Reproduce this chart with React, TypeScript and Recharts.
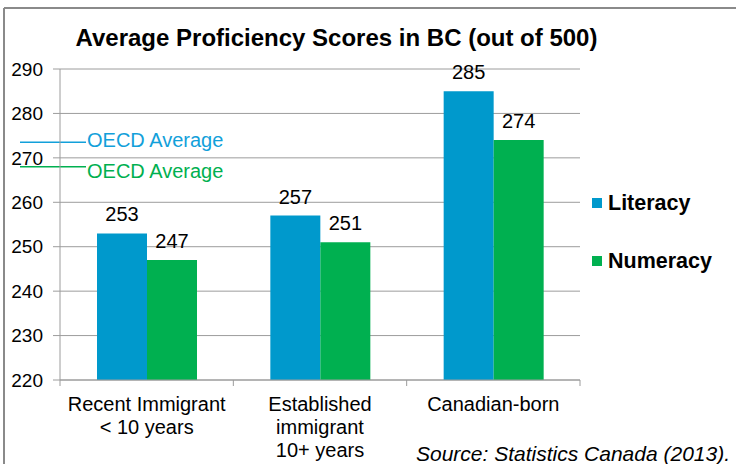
import React from 'react'
import {
  BarChart,
  Bar,
  XAxis,
  YAxis,
  CartesianGrid,
  Legend,
  LabelList,
  ReferenceLine,
} from 'recharts'

// Chart values
const categories = ['Recent Immigrant\n< 10 years', 'Established\nimmigrant\n10+ years', 'Canadian-born']
const literacy = [253, 257, 285]
const numeracy = [247, 251, 274]
const yTicks = [220, 230, 240, 250, 260, 270, 280, 290]
const oecdLiteracy = 273.5
const oecdNumeracy = 268

const data = categories.map((name, i) => ({
  name,
  literacy: literacy[i],
  numeracy: numeracy[i],
}))

const FONT = '"Liberation Sans", Arial, Helvetica, sans-serif'
const GRID = '#9c9c9c'
const BLUE = '#0099CC'
const GREEN = '#00B050'

// layout
const W = 736
const H = 464
const PLOT_LEFT = 60
const PLOT_RIGHT = 580
const BAND = (PLOT_RIGHT - PLOT_LEFT) / categories.length

// x tick: multi-line label centred in the band, tick marks on band edges
function CategoryTick(props: any) {
  const { x, y, payload, index } = props
  const axisY = y - 8
  const lines = String(payload.value).split('\n')
  const left = x - BAND / 2
  const right = x + BAND / 2
  return (
    <g>
      <line x1={left} x2={left} y1={axisY} y2={axisY + 6} stroke={GRID} />
      {index === categories.length - 1 && (
        <line x1={right} x2={right} y1={axisY} y2={axisY + 6} stroke={GRID} />
      )}
      <text x={x} y={axisY + 30.5} textAnchor="middle" fill="#000" fontSize={20} fontFamily={FONT}>
        {lines.map((l, i) => (
          <tspan key={i} x={x} dy={i === 0 ? 0 : 23}>
            {l}
          </tspan>
        ))}
      </text>
    </g>
  )
}

// OECD average marker sits left of the y axis, at the reference value
function OecdMark({ viewBox, color, dy }: any) {
  const { x, y } = viewBox
  return (
    <g>
      <line x1={x - 40} x2={x + 26} y1={y} y2={y} stroke={color} strokeWidth={1.5} />
      <text x={x + 27} y={y + dy} fill={color} fontSize={20} fontFamily={FONT}>
        OECD Average
      </text>
    </g>
  )
}

function LegendBox(props: any) {
  const { payload = [] } = props
  return (
    <div style={{ display: 'flex', flexDirection: 'column' }}>
      {payload.map((entry: any) => (
        <div key={entry.value} style={{ display: 'flex', alignItems: 'center', height: 58 }}>
          <span
            style={{
              display: 'inline-block',
              width: 10,
              height: 10,
              background: entry.color,
              marginLeft: 2,
              marginRight: 6,
            }}
          />
          <span style={{ fontWeight: 'bold', fontSize: 21.5, color: '#000', fontFamily: FONT }}>
            {entry.value}
          </span>
        </div>
      ))}
    </div>
  )
}

export default function App() {
  return (
    <div
      style={{
        position: 'absolute',
        left: 0,
        top: 0,
        width: W,
        height: H,
        background: '#fff',
        fontFamily: FONT,
        overflow: 'hidden',
      }}
    >
      <BarChart
        width={W}
        height={H}
        data={data}
        margin={{ top: 69, right: 10, left: 0, bottom: 0 }}
        barSize={50}
        barGap={0}
      >
        <CartesianGrid vertical={false} stroke={GRID} />
        <XAxis
          dataKey="name"
          height={84}
          interval={0}
          tickLine={false}
          tickSize={6}
          tickMargin={2}
          axisLine={{ stroke: GRID }}
          tick={<CategoryTick />}
        />
        <YAxis
          domain={[220, 290]}
          ticks={yTicks}
          interval={0}
          width={60}
          tickSize={7}
          tickMargin={10}
          axisLine={{ stroke: GRID }}
          tickLine={{ stroke: GRID }}
          tick={{ fill: '#000', fontSize: 19, fontFamily: FONT }}
        />
        <Legend
          layout="vertical"
          align="right"
          verticalAlign="middle"
          content={<LegendBox />}
          wrapperStyle={{ right: 0, top: 174, width: 146 }}
        />
        <ReferenceLine
          y={oecdLiteracy}
          stroke="none"
          ifOverflow="visible"
          label={(p: any) => <OecdMark viewBox={p.viewBox} color="#12A0DA" dy={4.6} />}
        />
        <ReferenceLine
          y={oecdNumeracy}
          stroke="none"
          ifOverflow="visible"
          label={(p: any) => <OecdMark viewBox={p.viewBox} color={GREEN} dy={11.6} />}
        />
        <Bar dataKey="literacy" name="Literacy" fill={BLUE} isAnimationActive={false}>
          <LabelList dataKey="literacy" position="top" offset={12} fill="#000" fontSize={20} fontFamily={FONT} />
        </Bar>
        <Bar dataKey="numeracy" name="Numeracy" fill={GREEN} isAnimationActive={false}>
          <LabelList dataKey="numeracy" position="top" offset={12} fill="#000" fontSize={20} fontFamily={FONT} />
        </Bar>
      </BarChart>
      <svg
        width={W}
        height={H}
        style={{ position: 'absolute', left: 0, top: 0, pointerEvents: 'none' }}
      >
        <line x1={4} x2={W} y1={8} y2={8} stroke="#8a8a8a" strokeWidth={2} />
        <line x1={4} x2={4} y1={8} y2={H} stroke="#8a8a8a" strokeWidth={2} />
        <text x={336.5} y={46} textAnchor="middle" fontSize={24} fontWeight="bold" fill="#000" fontFamily={FONT}>
          Average Proficiency Scores in BC (out of 500)
        </text>
        <text x={416} y={460.5} fontSize={21} fontStyle="italic" fill="#000" fontFamily={FONT}>
          Source: Statistics Canada (2013).
        </text>
      </svg>
    </div>
  )
}
